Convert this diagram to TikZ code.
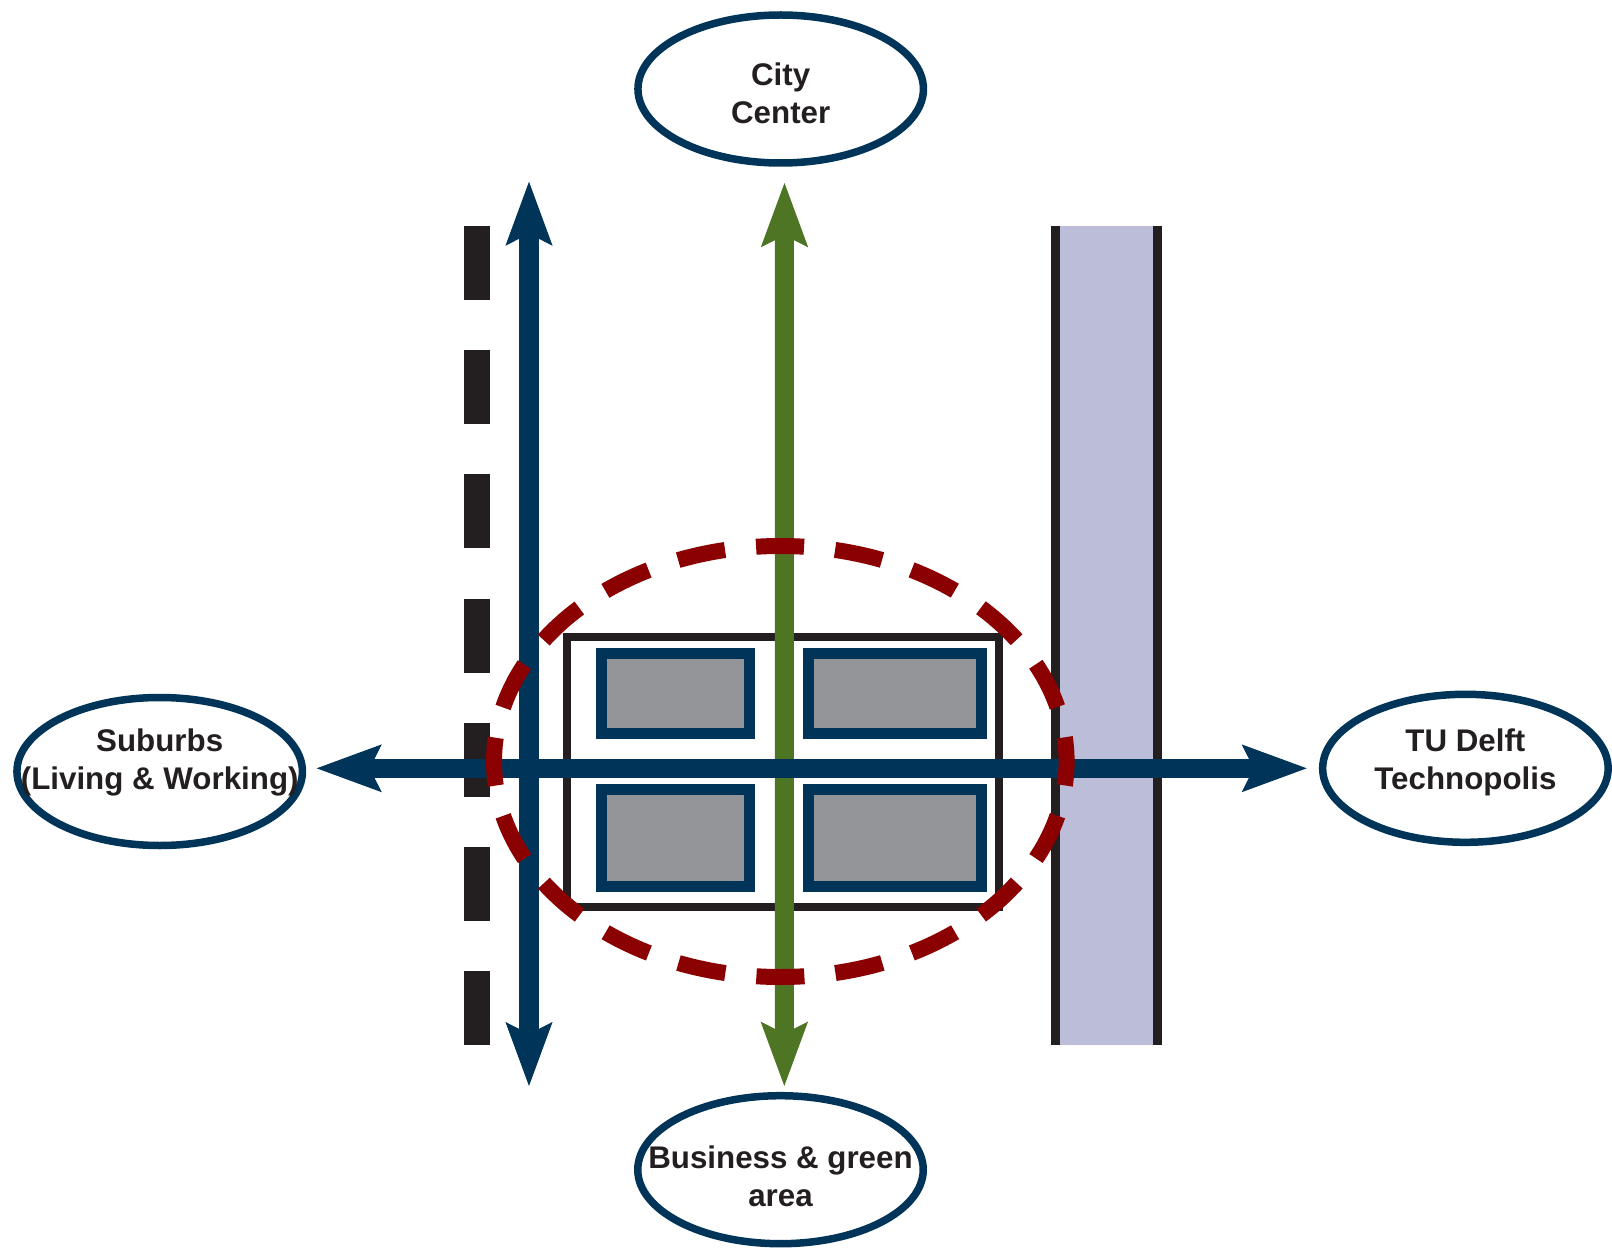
\documentclass[tikz,border=0pt]{standalone}
\usepackage{fontspec}
\setmainfont{Liberation Sans}
\usetikzlibrary{arrows.meta,shapes.geometric}
\definecolor{cNavy}{HTML}{003559}
\definecolor{cGreen}{HTML}{4D7524}
\definecolor{cRed}{HTML}{8B0000}
\definecolor{cGray}{HTML}{939598}
\definecolor{cLilac}{HTML}{BCBDD9}
\definecolor{cInk}{HTML}{231F20}
\begin{document}
\begin{tikzpicture}[x=1pt,y=-1pt,
  oval/.style={ellipse, draw=cNavy, line width=7.5pt, fill=white,
    minimum width=285.5pt, minimum height=148pt, inner sep=0pt},
  lbl/.style={font=\fontsize{31.3}{38}\selectfont\bfseries, text=cInk,
    align=center, inner sep=0pt},
  bluebarV/.style={draw=cNavy, line width=20pt,
    arrows={Stealth[length=64pt,width=47pt,inset=12pt,line width=1pt]-Stealth[length=64pt,width=47pt,inset=12pt,line width=1pt]}},
  bluebarH/.style={draw=cNavy, line width=19pt,
    arrows={Stealth[length=65pt,width=47.7pt,inset=12pt,line width=1pt]-Stealth[length=65pt,width=47.7pt,inset=12pt,line width=1pt]}},
  greenbar/.style={draw=cGreen, line width=19pt,
    arrows={Stealth[length=64.3pt,width=47.3pt,inset=12pt,line width=1pt]-Stealth[length=64.3pt,width=47.3pt,inset=12pt,line width=1pt]}},
  redring/.style={draw=cRed, line width=16pt, dash pattern=on 48pt off 31.21pt, dash phase=24pt},
  rail/.style={draw=cInk, line width=26pt, dash pattern=on 74pt off 50.17pt},
  block/.style={draw=cNavy, line width=11pt, fill=cGray},
  frame/.style={draw=cInk, line width=8pt},
  canaledge/.style={draw=cInk, line width=9pt}
]
\useasboundingbox (0,0) rectangle (1612,1249);

% canal band
\fill[cLilac] (1055.5,226) rectangle (1157.7,1045);
\draw[canaledge] (1055.5,226) -- (1055.5,1045);
\draw[canaledge] (1157.7,226) -- (1157.7,1045);

% railway (dashed)
\draw[rail] (477,226) -- (477,1045);

% site frame and blocks
\draw[frame] (567,636.7) rectangle (999,907);
\draw[block] (601.2,653) rectangle (749.7,733.5);
\draw[block] (808,653) rectangle (981.3,733.5);
\draw[block] (601.2,789.7) rectangle (749.7,886.8);
\draw[block] (808,789.7) rectangle (981.3,886.8);

% destination nodes
\node[oval, label={[lbl,yshift=-4pt]center:{City\\Center}}] (city) at (780.7,89) {};
\node[oval, label={[lbl,yshift=-6.3pt]center:{Business \& green\\area}}] (biz) at (780.5,1169.7) {};
\node[oval, label={[lbl,yshift=8.9pt]center:{Suburbs\\(Living \& Working)}}] (sub) at (159.7,771.5) {};
\node[oval, label={[lbl,yshift=5.7pt]center:{TU Delft\\Technopolis}}] (tu) at (1465.4,768.3) {};

% green axis
\draw[greenbar, shorten <=16.25pt, shorten >=6pt] ([xshift=3.8pt]city.south) -- ([xshift=3.8pt]biz.north);

% blue vertical axis
\coordinate (vtop) at (529,181.7);
\coordinate (vbot) at (529,1086);
\draw[bluebarV] (vtop) -- (vbot);

% blue horizontal axis
\draw[bluebarH, shorten <=10.5pt, shorten >=12.2pt] (sub.east |- tu.west) -- (tu.west);

% dashed red ring
\draw[redring] (780.3,761.5) ellipse [x radius=286.3, y radius=215.5];
\end{tikzpicture}
\end{document}
